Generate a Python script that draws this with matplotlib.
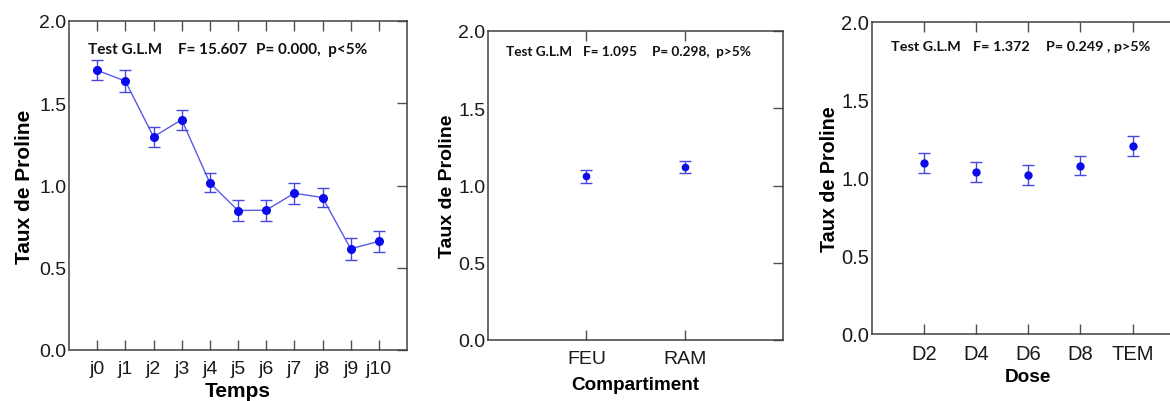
import matplotlib
matplotlib.use("Agg")
import matplotlib.pyplot as plt

# ---- data ----
temps_labels = ["j0", "j1", "j2", "j3", "j4", "j5", "j6", "j7", "j8", "j9", "j10"]
temps_mean = [1.70, 1.635, 1.296, 1.40, 1.016, 0.848, 0.85, 0.953, 0.927, 0.615, 0.661]
temps_err = [0.06, 0.068, 0.06, 0.06, 0.058, 0.064, 0.064, 0.065, 0.058, 0.066, 0.063]

comp_labels = ["FEU", "RAM"]
comp_mean = [1.059, 1.118]
comp_err = [0.04, 0.04]

dose_labels = ["D2", "D4", "D6", "D8", "TEM"]
dose_mean = [1.097, 1.039, 1.018, 1.078, 1.206]
dose_err = [0.063, 0.065, 0.065, 0.06, 0.064]

yticks = [0.0, 0.5, 1.0, 1.5, 2.0]
ytick_labels = ["0.0", "0.5", "1.0", "1.5", "2.0"]

W, H = 1170, 402
fig = plt.figure(figsize=(W / 100, H / 100), dpi=100)

SPINE = "#404040"
MARK = "#0a0aeb"
ERRC = "#4848e0"
LINEC = "#5a5ae6"
TXT = "#1a1a1a"


def px_axes(x0, y0, x1, y1):
    return fig.add_axes([x0 / W, 1 - y1 / H, (x1 - x0) / W, (y1 - y0) / H])


def style(ax, labels, xlim, xlabel, tsize, lsize, xlsize, xpad, xlpad, ylpad):
    ax.set_xlim(*xlim)
    ax.set_ylim(0, 2.0)
    ax.set_xticks(range(len(labels)))
    ax.set_xticklabels(labels, fontsize=tsize, family="Liberation Sans", color=TXT)
    ax.set_yticks(yticks)
    ax.set_yticklabels(ytick_labels, fontsize=tsize, family="Liberation Sans", color=TXT)
    ax.tick_params(axis="x", direction="in", length=7, width=1, color="#505050",
                   top=True, bottom=True, pad=xpad)
    ax.tick_params(axis="y", direction="in", length=7, width=1, color="#505050",
                   left=False, right=True, pad=2)
    for s in ax.spines.values():
        s.set_color(SPINE)
        s.set_linewidth(1.1)
    ax.set_ylabel("Taux de Proline", fontsize=lsize, fontweight="bold",
                  family="Liberation Sans", labelpad=ylpad)
    ax.set_xlabel(xlabel, fontsize=xlsize, fontweight="bold",
                  family="Liberation Sans", labelpad=xlpad)


# Panel 1
ax1 = px_axes(69, 22, 407, 351)
x1 = list(range(len(temps_labels)))
ax1.plot(x1, temps_mean, color=LINEC, lw=1.0, zorder=2)
ax1.errorbar(x1, temps_mean, yerr=temps_err, fmt="none", ecolor=ERRC,
             elinewidth=1.0, capsize=4.5, capthick=1.0, zorder=3)
ax1.plot(x1, temps_mean, "o", color=MARK, ms=5.5, zorder=4)
style(ax1, temps_labels, (-1, 11), "Temps", 14, 15, 15, 7.5, 2.5, 4)

# Panel 2
ax2 = px_axes(488, 32, 783, 341)
x2 = list(range(len(comp_labels)))
ax2.errorbar(x2, comp_mean, yerr=comp_err, fmt="none", ecolor=ERRC,
             elinewidth=1.0, capsize=4, capthick=1.0, zorder=3)
ax2.plot(x2, comp_mean, "o", color=MARK, ms=4.5, zorder=4)
style(ax2, comp_labels, (-1, 2), "Compartiment", 14, 14, 13.6, 7.5, 6, 1.5)

# Panel 3 (extends past right edge)
ax3 = px_axes(872, 22.7, 872 + 6 * 52.1, 335)
x3 = list(range(len(dose_labels)))
ax3.errorbar(x3, dose_mean, yerr=dose_err, fmt="none", ecolor=ERRC,
             elinewidth=1.0, capsize=4, capthick=1.0, zorder=3)
ax3.plot(x3, dose_mean, "o", color=MARK, ms=5, zorder=4)
style(ax3, dose_labels, (-1, 5), "Dose", 14.5, 14.2, 13.7, 7.5, 3, 2)

# annotations
FAM = ["Lato", "DejaVu Sans"]


def ann(x, y, s, size):
    fig.text(x / W, 1 - y / H, s, fontsize=size, fontweight="bold", family=FAM,
             va="center", ha="left", color="#111111")


ann(88, 50, "Test G.L.M", 11)
ann(178, 50, "F= 15.607", 11)
ann(256, 50, "P= 0.000,  p<5%", 11)

ann(506, 52, "Test G.L.M", 9.8)
ann(583, 52, "F= 1.095", 9.8)
ann(652, 52, "P= 0.298,  p>5%", 9.8)

ann(891, 47, "Test G.L.M", 10.4)
ann(973, 47, "F= 1.372", 10.4)
ann(1046, 47, "P= 0.249 , p>5%", 10.4)

fig.savefig("out.png", dpi=100)
